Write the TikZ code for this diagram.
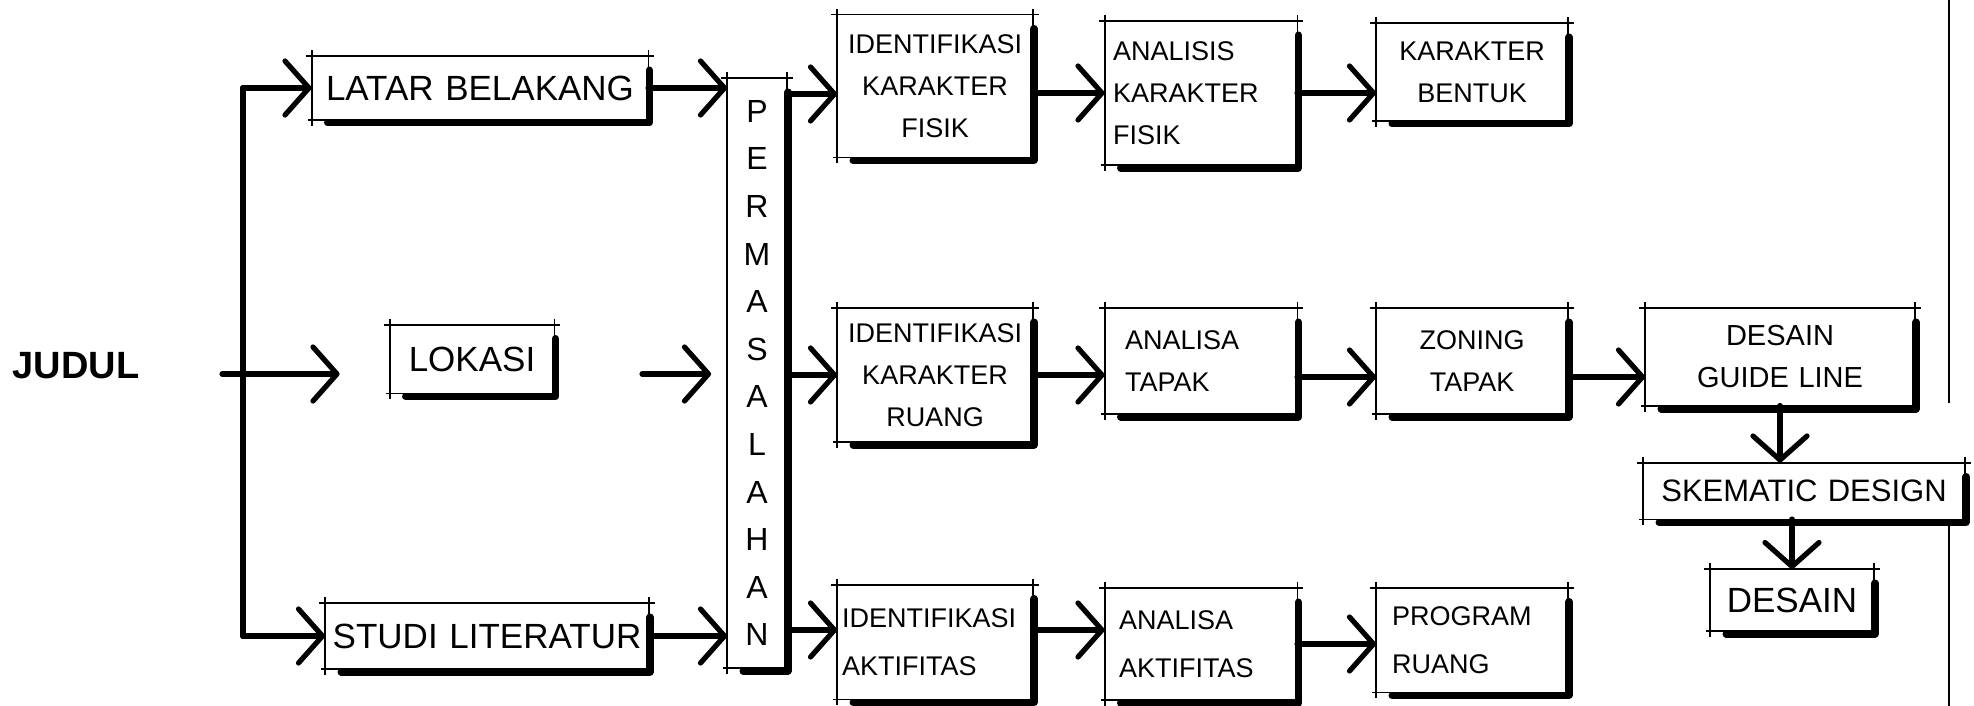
\documentclass[tikz,border=0pt]{standalone}
\usepackage{fontspec}
\setmainfont{Liberation Sans}
\usetikzlibrary{arrows.meta}
\newcommand\lett{\fontsize{13.5}{21}\selectfont}
\newcommand\besar{\fontsize{17.5}{21}\selectfont}
\begin{document}
\begin{tikzpicture}[x=0.5pt,y=-0.5pt,line join=round,
  >={Straight Barb[length=12pt,width=27pt,line width=2.6pt,round]},
  blok/.style={inner sep=0pt,font=\lett},
  pil/.style={->,line width=3pt,line cap=round},
  tipis/.style={line width=0.9pt},
  bayang/.style={line width=3.6pt,line cap=round}]
\useasboundingbox (0,0) rectangle (1974,706);
\node[font=\fontsize{19}{19}\selectfont\bfseries] (judul) at (76,366) {JUDUL};
\coordinate (kmid) at (243,374);
% kolom kiri
\node[blok,font=\besar,minimum width=168pt,minimum height=31.5pt,text width=160pt,align=center] (latar) at (480,88) {LATAR BELAKANG};
\node[blok,font=\besar,minimum width=82pt,minimum height=34pt,text width=74pt,align=center] (lokasi) at (472,359) {LOKASI};
\node[blok,font=\besar,minimum width=161.5pt,minimum height=32.5pt,text width=155pt,align=center] (studi) at (487,636) {STUDI LITERATUR};
\node[blok,font=\fontsize{16}{23.8}\selectfont,minimum width=29.5pt,minimum height=294.5pt,align=center] (masalah) at (757,373)
  {P\\E\\R\\M\\A\\S\\A\\L\\A\\H\\A\\N};
% baris atas
\node[blok,minimum width=97.5pt,minimum height=71pt,text width=93pt,align=center] (idfisik) at (935,86) {IDENTIFIKASI\\KARAKTER\\FISIK};
\node[blok,minimum width=96pt,minimum height=71.5pt,text width=88pt,align=left] (anfisik) at (1201,93) {ANALISIS\\KARAKTER\\FISIK};
\node[blok,minimum width=95.5pt,minimum height=48.5pt,text width=90pt,align=center] (bentuk) at (1472,72) {KARAKTER\\BENTUK};
% baris tengah
\node[blok,minimum width=97.5pt,minimum height=66.5pt,text width=93pt,align=center] (idruang) at (935,375) {IDENTIFIKASI\\KARAKTER\\RUANG};
\node[blok,minimum width=96pt,minimum height=52.5pt,text width=76pt,align=left] (antapak) at (1201,361) {ANALISA\\TAPAK};
\node[blok,minimum width=95.5pt,minimum height=52.5pt,text width=90pt,align=center] (zoning) at (1472,361) {ZONING\\TAPAK};
\node[blok,font=\fontsize{14.5}{21}\selectfont,minimum width=134.5pt,minimum height=48.5pt,text width=128pt,align=center] (guide) at (1780,357) {DESAIN\\GUIDE LINE};
\node[blok,font=\fontsize{15.5}{21}\selectfont,minimum width=160.5pt,minimum height=28pt,text width=155pt,align=center] (skematik) at (1804,491) {SKEMATIC DESIGN};
\node[blok,font=\besar,minimum width=81.5pt,minimum height=30.5pt,text width=76pt,align=center] (desain) at (1792,600) {DESAIN};
% baris bawah
\node[blok,minimum width=97.5pt,minimum height=57pt,text width=93pt,align=left] (idaktif) at (935,642) {IDENTIFIKASI\\[3pt]AKTIFITAS};
\node[blok,minimum width=96pt,minimum height=55.5pt,text width=82pt,align=left] (anaktif) at (1201,644) {ANALISA\\[3pt]AKTIFITAS};
\node[blok,minimum width=95.5pt,minimum height=52pt,text width=80pt,align=left] (program) at (1472,640) {PROGRAM\\[3pt]RUANG};
% bingkai sketsa
\foreach \n in {latar,lokasi,studi,masalah,idfisik,anfisik,bentuk,idruang,antapak,zoning,guide,skematik,desain,idaktif,anaktif,program}{
  \draw[tipis] ([xshift=-3pt]\n.north west) -- ([xshift=3pt]\n.north east);
  \draw[tipis] ([xshift=-2pt]\n.south west) -- ([xshift=2pt]\n.south east);
  \draw[tipis] ([yshift=3pt]\n.north west) -- ([yshift=-3pt]\n.south west);
  \draw[tipis] ([yshift=3pt]\n.north east) -- (\n.south east);
  \draw[bayang] ([xshift=8pt,yshift=-1.5pt]\n.south west) -- ([xshift=0.5pt,yshift=-1.5pt]\n.south east) -- ([xshift=0.5pt,yshift=-7pt]\n.north east);
}
% panah
\coordinate (ktop) at (latar.west -| kmid);
\coordinate (kbot) at (studi.west -| kmid);
\draw[line width=3pt,line cap=round] (ktop) -- (kbot);
\draw[pil] (ktop) -- (latar.west);
\draw[pil] (kbot) -- (studi.west);
\draw[pil,shorten <=38pt,shorten >=25pt] (judul.east |- kmid) -- (lokasi.west |- kmid);
\draw[pil] (latar.east) -- (latar.east -| masalah.west);
\draw[pil,shorten <=44pt,shorten >=8pt] (lokasi.east |- kmid) -- (masalah.west |- kmid);
\draw[pil] (studi.east) -- (studi.east -| masalah.west);
\draw[pil] ([yshift=-4pt]masalah.east |- idfisik.west) -- ([yshift=-4pt]idfisik.west);
\draw[pil] (masalah.east |- idruang.west) -- (idruang.west);
\draw[pil] ([yshift=6pt]masalah.east |- idaktif.west) -- ([yshift=6pt]idaktif.west);
\draw[pil] (idfisik.east |- anfisik.west) -- (anfisik.west);
\draw[pil] (anfisik.east) -- (anfisik.east -| bentuk.west);
\draw[pil] (idruang.east) -- (idruang.east -| antapak.west);
\draw[pil] ([yshift=-8pt]antapak.east) -- ([yshift=-8pt]zoning.west);
\draw[pil] ([yshift=-8pt]zoning.east) -- ([yshift=-8pt]zoning.east -| guide.west);
\draw[pil] ([yshift=6pt]idaktif.east) -- ([yshift=6pt]idaktif.east -| anaktif.west);
\draw[pil] (anaktif.east) -- (anaktif.east -| program.west);
\draw[pil] (guide.south) -- (guide.south |- skematik.north);
\draw[pil] (desain.north |- skematik.south) -- (desain.north);
% garis tepi kanan
\draw[line width=1.3pt] (1949,0) -- (1949,403);
\draw[line width=1.3pt] (1949,519) -- (1949,706);
\end{tikzpicture}
\end{document}
